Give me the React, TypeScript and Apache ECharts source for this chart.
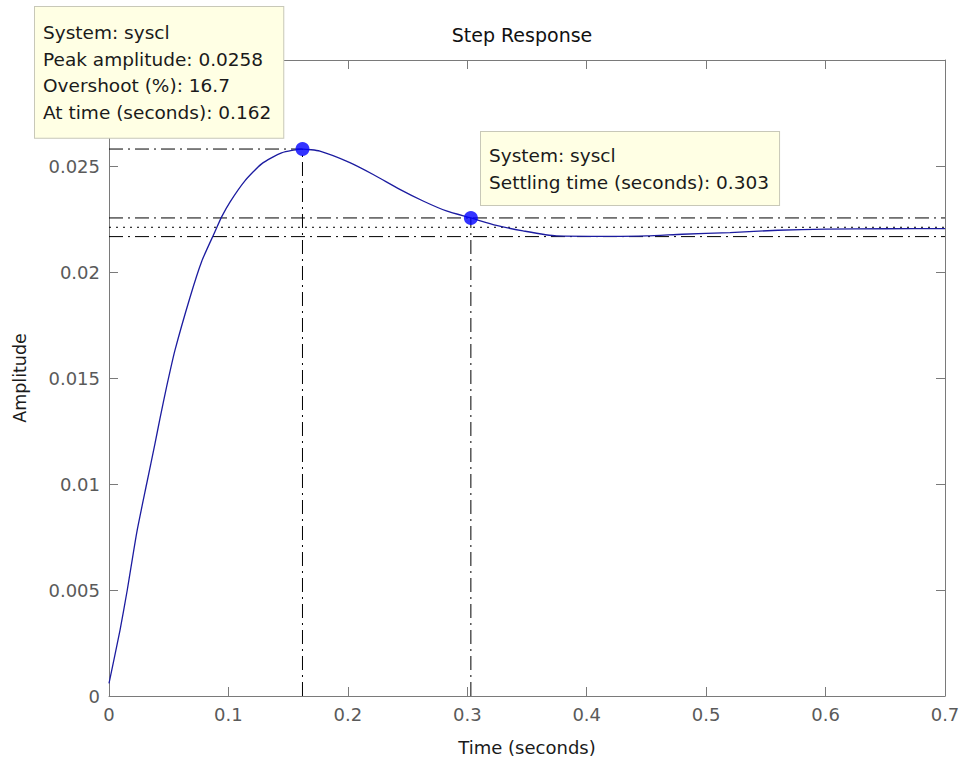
import { useEffect, useRef } from "react";
import * as echarts from "echarts";

// Step response samples of the closed-loop system "syscl"
const timeSec = [
  0, 0.0092, 0.0153, 0.0232, 0.0315, 0.0385, 0.0427, 0.0483, 0.0552, 0.0678,
  0.0776, 0.0887, 0.0943, 0.1013, 0.1138, 0.1278, 0.1445, 0.162, 0.1766,
  0.2017, 0.2212, 0.2435, 0.263, 0.2825, 0.303, 0.3244, 0.3467, 0.3746, 0.42,
  0.45, 0.48, 0.52, 0.56, 0.6, 0.65, 0.7,
];
const amplitude = [
  0.0006, 0.0031, 0.005, 0.0077, 0.01, 0.0119, 0.0131, 0.0146, 0.0163, 0.0188,
  0.0205, 0.0219, 0.0226, 0.0233, 0.0243, 0.0251, 0.02562, 0.0258, 0.0257,
  0.02516, 0.0246, 0.0239, 0.02335, 0.02288, 0.02255, 0.0222, 0.02194, 0.0217,
  0.02168, 0.0217, 0.02178, 0.02186, 0.02197, 0.02202, 0.02204, 0.02205,
];

// Characteristics reported in the data tips
const peakTime = 0.162;
const peakAmplitude = 0.0258;
const overshootPercent = 16.7;
const settlingTime = 0.303;
const settlingAmplitude = 0.02255;
const finalValue = 0.02211;
const settlingBandLow = 0.02167;
const settlingBandHigh = 0.02255;

const xMin = 0;
const xMax = 0.7;
const xStep = 0.1;
const yMin = 0;
const yMax = 0.03;
const yStep = 0.005;

const FONT = '"DejaVu Sans", "Liberation Sans", sans-serif';
const dashDot = [14, 5, 2, 5];
const dotted = [2, 5];

export default function App() {
  const ref = useRef<HTMLDivElement>(null);

  useEffect(() => {
    if (!ref.current) return;
    const chart = echarts.init(ref.current, undefined, { renderer: "svg" });

    const curve = timeSec.map((t, i) => [t, amplitude[i]]);
    const refLine = (data: number[][], type: number[]) => ({
      type: "line",
      data,
      symbol: "none",
      silent: true,
      lineStyle: { color: "#000", width: 1, type },
      z: 3,
    });

    const axisGray = "#7a7a7a";
    const labelGray = "#5a5a5a";

    const baseX = {
      type: "value",
      min: xMin,
      max: xMax,
      interval: xStep,
      splitLine: { show: false },
      axisLine: { show: true, onZero: false, lineStyle: { color: axisGray, width: 1 } },
      axisTick: { show: true, inside: true, length: 9, lineStyle: { color: axisGray } },
    };
    const baseY = {
      type: "value",
      min: yMin,
      max: yMax,
      interval: yStep,
      splitLine: { show: false },
      axisLine: { show: true, onZero: false, lineStyle: { color: axisGray, width: 1 } },
      axisTick: { show: true, inside: true, length: 9, lineStyle: { color: axisGray } },
    };

    const peakTip = [
      "System: syscl",
      `Peak amplitude: ${peakAmplitude}`,
      `Overshoot (%): ${overshootPercent}`,
      `At time (seconds): ${peakTime}`,
    ].join("\n");
    const settleTip = ["System: syscl", `Settling time (seconds): ${settlingTime}`].join("\n");

    chart.setOption({
      animation: false,
      backgroundColor: "#ffffff",
      grid: { left: 109, top: 60, right: 14, bottom: 69, containLabel: false, outerBoundsMode: "none" },
      xAxis: [
        {
          ...baseX,
          position: "bottom",
          name: "Time (seconds)",
          nameLocation: "middle",
          nameGap: 42,
          nameTextStyle: { fontFamily: FONT, fontSize: 18, color: "#1a1a1a" },
          axisLabel: {
            fontFamily: FONT,
            fontSize: 18,
            color: labelGray,
            margin: 9,
            formatter: (v: number) => String(parseFloat(v.toFixed(3))),
          },
        },
        { ...baseX, position: "top", axisLabel: { show: false } },
      ],
      yAxis: [
        {
          ...baseY,
          position: "left",
          name: "Amplitude",
          nameLocation: "middle",
          nameRotate: 90,
          nameGap: 80,
          nameTextStyle: { fontFamily: FONT, fontSize: 17.5, color: "#1a1a1a" },
          axisLabel: {
            fontFamily: FONT,
            fontSize: 18,
            color: labelGray,
            margin: 9,
            formatter: (v: number) => (v >= yMax - 1e-9 ? "" : String(parseFloat(v.toFixed(4)))),
          },
        },
        { ...baseY, position: "right", axisLabel: { show: false } },
      ],
      series: [
        refLine([[xMin, peakAmplitude], [peakTime, peakAmplitude]], dashDot),
        refLine([[peakTime, yMin], [peakTime, peakAmplitude]], dashDot),
        refLine([[settlingTime, yMin], [settlingTime, settlingAmplitude]], dashDot),
        refLine([[xMin, settlingBandHigh], [xMax, settlingBandHigh]], dashDot),
        refLine([[xMin, settlingBandLow], [xMax, settlingBandLow]], dashDot),
        refLine([[xMin, finalValue], [xMax, finalValue]], dotted),
        {
          type: "line",
          name: "syscl",
          data: curve,
          symbol: "none",
          smooth: 0.2,
          lineStyle: { color: "#1c1ca0", width: 1.3 },
          z: 4,
        },
        {
          type: "scatter",
          data: [
            [peakTime, peakAmplitude],
            [settlingTime, settlingAmplitude],
          ],
          symbol: "circle",
          symbolSize: 14,
          itemStyle: { color: "#0000ff" },
          z: 5,
        },
      ],
      graphic: [
        {
          type: "text",
          x: 522,
          y: 35,
          z: 50,
          style: {
            text: "Step Response",
            font: `19px ${FONT}`,
            fill: "#111",
            align: "center",
            verticalAlign: "middle",
          },
        },
        {
          type: "text",
          x: 35,
          y: 7,
          z: 100,
          style: {
            text: peakTip,
            font: `18.5px ${FONT}`,
            fill: "#1a1a1a",
            lineHeight: 26.7,
            backgroundColor: "#ffffe4",
            borderColor: "#c8c8b8",
            borderWidth: 1,
            padding: [12, 12, 12, 8],
          },
        },
        {
          type: "text",
          x: 481,
          y: 132,
          z: 100,
          style: {
            text: settleTip,
            font: `18.5px ${FONT}`,
            fill: "#1a1a1a",
            lineHeight: 27,
            backgroundColor: "#ffffe4",
            borderColor: "#c8c8b8",
            borderWidth: 1,
            padding: [9.5, 10, 9.5, 8],
          },
        },
      ],
    });

    return () => chart.dispose();
  }, []);

  return (
    <div
      ref={ref}
      style={{ position: "fixed", left: 0, top: 0, width: 959, height: 765, background: "#fff" }}
    />
  );
}
